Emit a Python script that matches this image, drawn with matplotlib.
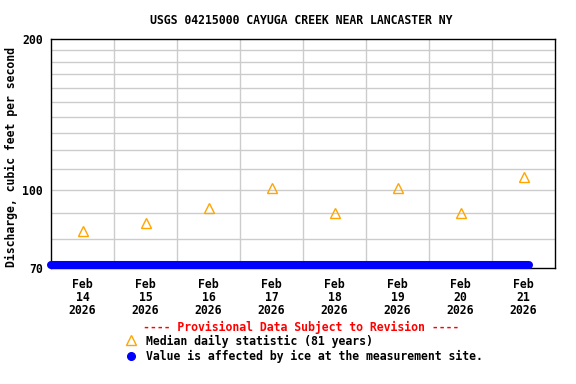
import matplotlib
matplotlib.use("Agg")
import matplotlib.pyplot as plt
from matplotlib.ticker import FixedLocator, NullFormatter, NullLocator
import datetime as dt

# ---- data ----
title = "USGS 04215000 CAYUGA CREEK NEAR LANCASTER NY"
ylabel = "Discharge, cubic feet per second"
median_days = [dt.datetime(2026, 2, d, 12) for d in range(14, 22)]
median_values = [83, 86, 92, 101, 90, 101, 90, 106]
ice_times = [dt.datetime(2026, 2, 14, 0), dt.datetime(2026, 2, 21, 14)]
ice_values = [71, 71]
x_start = dt.datetime(2026, 2, 14)
x_end = dt.datetime(2026, 2, 22)
y_ticks = [70, 100, 200]
y_grid = [80, 90, 100, 110, 120, 130, 140, 150, 160, 170, 180, 190]
tick_labels = [f"Feb\n{d.day}\n2026" for d in median_days]

font = "DejaVu Sans Mono"
fs = 8.3

fig = plt.figure(figsize=(5.76, 3.84), dpi=100)
ax = fig.add_axes([51/576, 1-268/384, (555-51)/576, (268-39)/384])
ax.set_yscale("log")
ax.set_ylim(70, 200)
ax.set_xlim(x_start, x_end)

# grid
ax.yaxis.set_major_locator(FixedLocator(y_ticks))
ax.yaxis.set_minor_locator(FixedLocator(y_grid))
ax.yaxis.set_minor_formatter(NullFormatter())
ax.set_yticklabels([str(v) for v in y_ticks], fontfamily=font, fontweight="bold", fontsize=fs)
for v in y_grid:
    ax.axhline(v, color="#cccccc", lw=1, zorder=0)
midnights = [dt.datetime(2026, 2, d) for d in range(15, 22)]
for m in midnights:
    ax.axvline(m, color="#cccccc", lw=1, zorder=0)

ax.set_xticks(median_days)
ax.set_xticklabels(tick_labels, fontfamily=font, fontweight="bold", fontsize=fs, linespacing=1.0)
ax.xaxis.set_minor_locator(NullLocator())
ax.tick_params(axis="both", which="both", length=0)
ax.tick_params(axis="x", pad=7)
ax.tick_params(axis="y", pad=6)

for s in ax.spines.values():
    s.set_color("black")
    s.set_linewidth(1)
    s.set_zorder(3)

# data
ax.plot(median_days, median_values, linestyle="none", marker="^", markersize=6.5,
        markerfacecolor="none", markeredgecolor="#FFA500", markeredgewidth=1, zorder=4)
ax.plot(ice_times, ice_values, color="#0000FF", lw=5.8, solid_capstyle="round",
        clip_on=False, zorder=5)

# texts
fig.text(301/576, 1-20/384, title, ha="center", va="center", fontfamily=font,
         fontweight="bold", fontsize=fs)
fig.text(11/576, 1-157/384, ylabel, ha="center", va="center", rotation=90,
         fontfamily=font, fontweight="bold", fontsize=fs)
fig.text(301/576, 1-327/384, "---- Provisional Data Subject to Revision ----",
         ha="center", va="center", color="red", fontfamily=font, fontweight="bold", fontsize=fs)
fig.lines.append(plt.Line2D([131/576], [1-340/384], transform=fig.transFigure, marker="^",
                            markersize=7, markerfacecolor="none", markeredgecolor="#FFA500",
                            markeredgewidth=1, linestyle="none"))
fig.text(146/576, 1-341/384, "Median daily statistic (81 years)", ha="left", va="center",
         fontfamily=font, fontweight="bold", fontsize=fs)
fig.lines.append(plt.Line2D([131/576], [1-356/384], transform=fig.transFigure, marker="o",
                            markersize=5.5, color="#0000FF", linestyle="none"))
fig.text(146/576, 1-356/384, "Value is affected by ice at the measurement site.", ha="left",
         va="center", fontfamily=font, fontweight="bold", fontsize=fs)

fig.savefig("out.png", dpi=100)
